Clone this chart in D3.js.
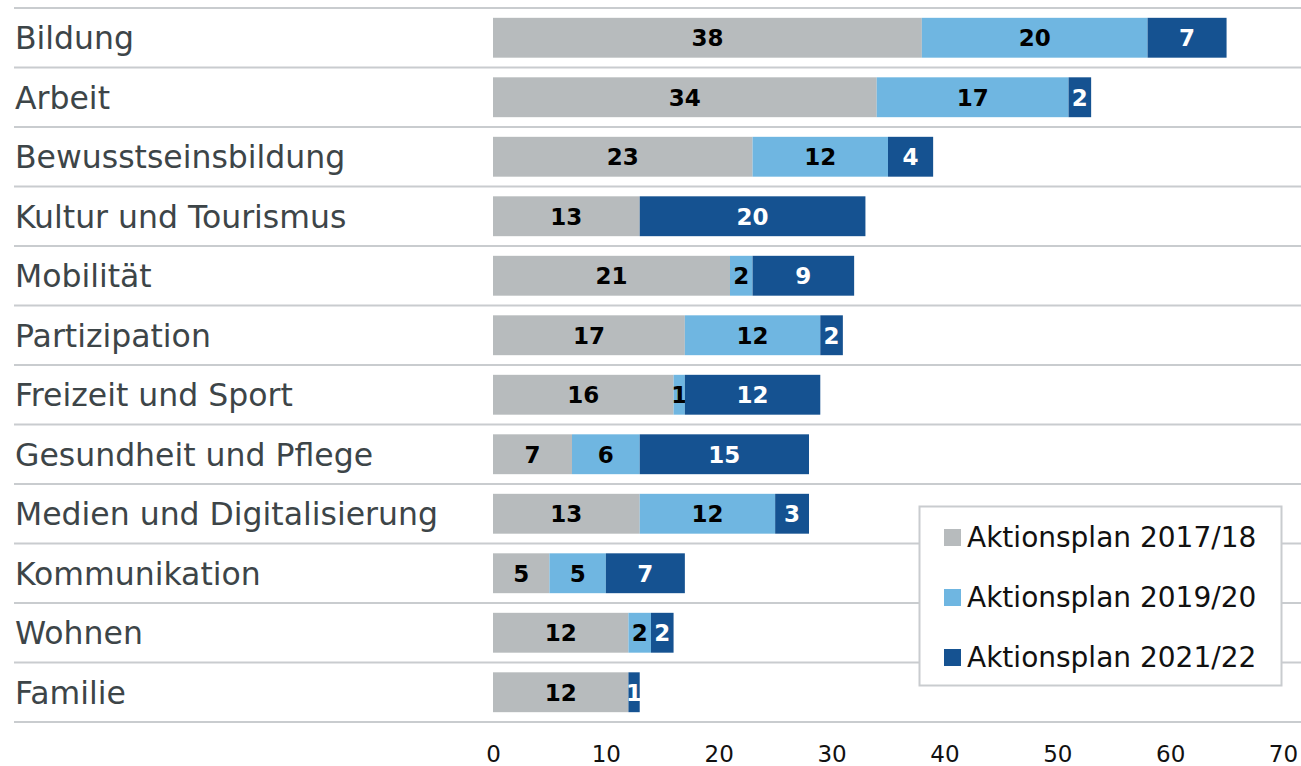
<!DOCTYPE html>
<html><head><meta charset="utf-8">
<script src="https://cdn.jsdelivr.net/npm/d3@7"></script>
<style>body{margin:0;background:#fff}svg{display:block}</style>
</head><body>
<svg id="c" width="1301" height="766"></svg>
<script>
const categories = ["Bildung","Arbeit","Bewusstseinsbildung","Kultur und Tourismus","Mobilität","Partizipation","Freizeit und Sport","Gesundheit und Pflege","Medien und Digitalisierung","Kommunikation","Wohnen","Familie"];
const seriesNames = ["Aktionsplan 2017/18","Aktionsplan 2019/20","Aktionsplan 2021/22"];
const s2017 = [38,34,23,13,21,17,16,7,13,5,12,12];
const s2019 = [20,17,12,0,2,12,1,6,12,5,2,0];
const s2021 = [7,2,4,20,9,2,12,15,3,7,2,1];
const xTicks = [0,10,20,30,40,50,60,70];
const colors = ["#b7bbbd","#6fb6e1","#155291"];
const labelColors = ["#000","#000","#fff"];
const FONT = "DejaVu Sans, Verdana, sans-serif";

const svg = d3.select("#c");
const x = d3.scaleLinear().domain([0,70]).range([493,1283]);
const y = d3.scaleBand().domain(categories).range([8,722]).paddingInner(0.33).paddingOuter(0.165);
const step = y.step();

const data = categories.map((c,i)=>({cat:c, vals:[s2017[i],s2019[i],s2021[i]]}));

// gridlines at row boundaries
const bounds = d3.range(categories.length+1).map(i=>8+i*step);
svg.append("g").selectAll("line").data(bounds).join("line")
  .attr("x1",14).attr("x2",1301).attr("y1",d=>d).attr("y2",d=>d)
  .attr("stroke","#c9cccf").attr("stroke-width",2);

// category labels
svg.append("g").selectAll("text").data(categories).join("text")
  .attr("x",15).attr("y",d=>y(d)+y.bandwidth()/2).attr("dy","0.37em")
  .attr("font-family",FONT).attr("font-size",31.5)
  .attr("fill","#3d4548").text(d=>d);

// bars
const g = svg.append("g");
data.forEach(d=>{
  let acc=0;
  d.vals.forEach((v,k)=>{
    if(v>0){
      g.append("rect").attr("x",x(acc)).attr("y",y(d.cat))
        .attr("width",x(acc+v)-x(acc)).attr("height",y.bandwidth()).attr("fill",colors[k]);
      g.append("text").attr("x",(x(acc)+x(acc+v))/2).attr("y",y(d.cat)+y.bandwidth()/2)
        .attr("dy","0.37em").attr("text-anchor","middle")
        .attr("font-family",FONT).attr("font-weight","bold")
        .attr("font-size",23).attr("fill",labelColors[k]).text(v);
    }
    acc+=v;
  });
});

// x axis tick labels
const ax = svg.append("g").attr("transform","translate(0,742)").call(d3.axisBottom(x).tickValues(xTicks).tickSize(0).tickPadding(4));
ax.select(".domain").remove();
ax.selectAll("text").attr("font-family",FONT).attr("font-size",23).attr("fill","#111");

// legend
const lg = svg.append("g");
lg.append("rect").attr("x",919.5).attr("y",506.5).attr("width",362).attr("height",179)
  .attr("fill","#fff").attr("stroke","#c9cccf").attr("stroke-width",2);
seriesNames.forEach((n,k)=>{
  const cy = 537 + k*60;
  lg.append("rect").attr("x",944).attr("y",cy-8).attr("width",17).attr("height",17).attr("fill",colors[k]);
  lg.append("text").attr("x",967).attr("y",cy).attr("dy","0.37em")
    .attr("font-family",FONT).attr("font-size",28).attr("fill","#111").text(n);
});
</script>
</body></html>
